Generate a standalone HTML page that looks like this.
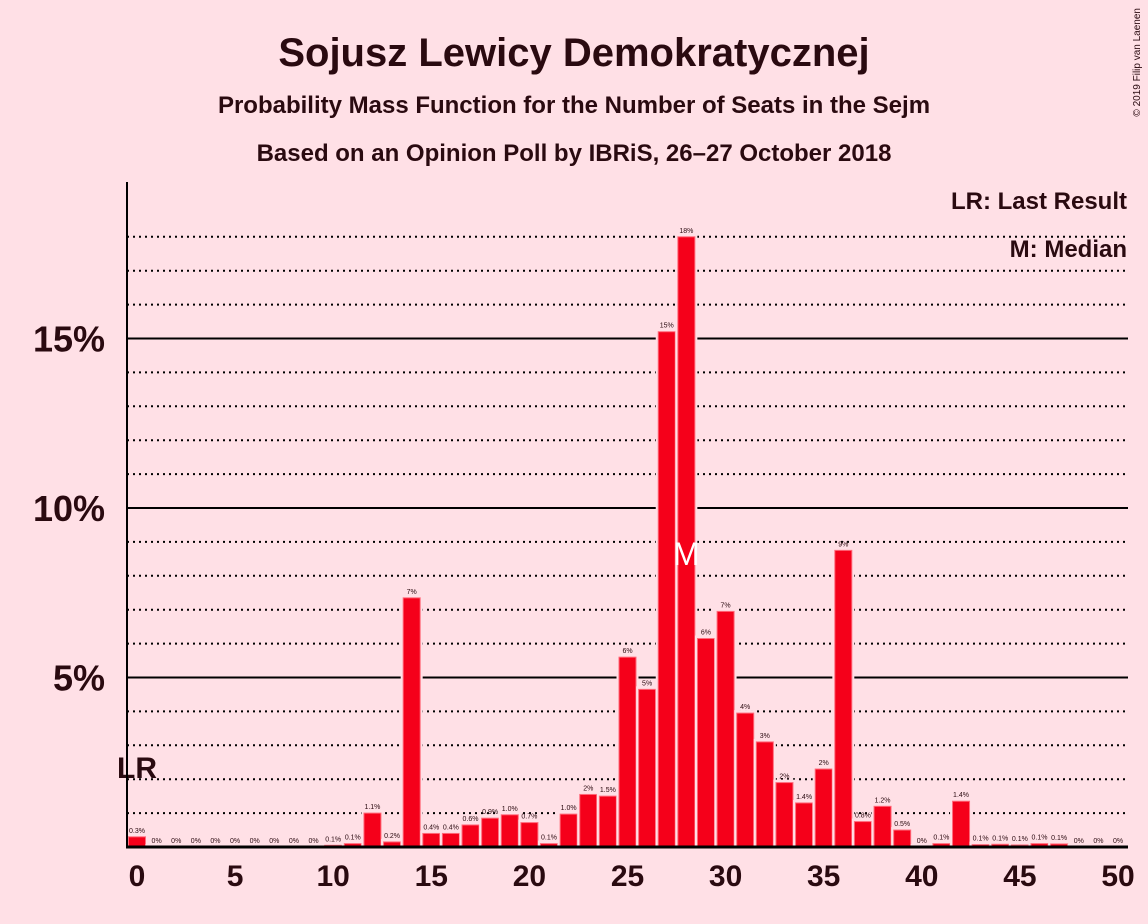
<!DOCTYPE html>
<html><head><meta charset="utf-8"><style>
body{margin:0;background:#ffe0e6;}
svg{display:block;font-family:"Liberation Sans",sans-serif;}
</style></head><body>
<svg id="c" width="1148" height="924">
<rect width="1148" height="924" fill="#ffe0e6"/>
<text x="574" y="66" text-anchor="middle" font-size="40" font-weight="bold" fill="#2a0a10">Sojusz Lewicy Demokratycznej</text>
<text x="574" y="113" text-anchor="middle" font-size="24" font-weight="bold" fill="#2a0a10">Probability Mass Function for the Number of Seats in the Sejm</text>
<text x="574" y="161" text-anchor="middle" font-size="24" font-weight="bold" fill="#2a0a10">Based on an Opinion Poll by IBRiS, 26–27 October 2018</text>
<text x="1140" y="8" font-size="10" fill="#2a0a10" transform="rotate(-90 1140 8)" text-anchor="end">© 2019 Filip van Laenen</text>
<text x="1127" y="209" text-anchor="end" font-size="24" font-weight="bold" fill="#2a0a10">LR: Last Result</text>
<text x="1127" y="257" text-anchor="end" font-size="24" font-weight="bold" fill="#2a0a10">M: Median</text>
<g id="grid"></g><g id="bars"></g><g id="axes"></g>
</svg>
<script>
const seats=[0,1,2,3,4,5,6,7,8,9,10,11,12,13,14,15,16,17,18,19,20,21,22,23,24,25,26,27,28,29,30,31,32,33,34,35,36,37,38,39,40,41,42,43,44,45,46,47,48,49,50];
const probs=[0.3,0,0,0,0,0,0,0,0,0,0.05,0.1,1.0,0.15,7.35,0.4,0.4,0.65,0.85,0.95,0.72,0.1,0.97,1.55,1.5,5.6,4.65,15.2,18.0,6.15,6.95,3.95,3.1,1.9,1.3,2.3,8.75,0.75,1.2,0.5,0,0.1,1.35,0.07,0.08,0.06,0.1,0.09,0,0,0];
const labels=["0.3%","0%","0%","0%","0%","0%","0%","0%","0%","0%","0.1%","0.1%","1.1%","0.2%","7%","0.4%","0.4%","0.6%","0.9%","1.0%","0.7%","0.1%","1.0%","2%","1.5%","6%","5%","15%","18%","6%","7%","4%","3%","2%","1.4%","2%","9%","0.8%","1.2%","0.5%","0%","0.1%","1.4%","0.1%","0.1%","0.1%","0.1%","0.1%","0%","0%","0%"];
const yTicks=[5,10,15];
const xTicks=[0,5,10,15,20,25,30,35,40,45,50];
const lastResult=0, median=28;
const NS="http://www.w3.org/2000/svg";
const x=s=>137+s*19.62, y=v=>847-v*33.9;
function mk(p,t,a){const e=document.createElementNS(NS,t);for(const k in a)e.setAttribute(k,a[k]);p.appendChild(e);return e;}
const grid=document.getElementById('grid'),bars=document.getElementById('bars'),axes=document.getElementById('axes');
for(let v=1;v<=18;v++){
  const major=v%5===0;
  const l=mk(grid,'line',{x1:127,x2:1128,y1:y(v),y2:y(v),stroke:'#000','stroke-width':2,'stroke-dasharray':major?'none':'2,4'});
  
  
}
seats.forEach((s,i)=>{
  const v=probs[i];
  const gap=mk(bars,'rect',{x:x(s)-11,y:y(v)-3,width:22,height:847-y(v)+3,fill:'#ffe0e6'});
  
  
  if(v>0){
    const r=mk(bars,'rect',{x:x(s)-8.5,y:y(v),width:17,height:847-y(v),fill:'#f5001a',stroke:'#ff6a7a','stroke-width':1});
    
    
  }
  const t=mk(bars,'text',{x:x(s),y:y(v)-4,'text-anchor':'middle','font-size':7,fill:'#2a0a10'});
  t.textContent=labels[i];
  
  
});
const m=mk(bars,'text',{x:x(median),y:y(8.7)+13,'text-anchor':'middle','font-size':32,fill:'#fff'});
m.textContent='M';


const lr=mk(axes,'text',{x:x(lastResult),y:778,'text-anchor':'middle','font-size':30,'font-weight':'bold',fill:'#2a0a10'});
lr.textContent='LR';


const ya=mk(axes,'line',{x1:127,x2:127,y1:182,y2:848,stroke:'#000','stroke-width':2});


const xa=mk(axes,'line',{x1:126,x2:1128,y1:847,y2:847,stroke:'#000','stroke-width':3});


yTicks.forEach(v=>{
  const t=mk(axes,'text',{x:105,y:y(v)+13,'text-anchor':'end','font-size':36,'font-weight':'bold',fill:'#2a0a10'});
  t.textContent=v+'%';
  
  
});
xTicks.forEach(s=>{
  const t=mk(axes,'text',{x:x(s),y:886,'text-anchor':'middle','font-size':30,'font-weight':'bold',fill:'#2a0a10'});
  t.textContent=s;
  
  
});
</script>
</body></html>
